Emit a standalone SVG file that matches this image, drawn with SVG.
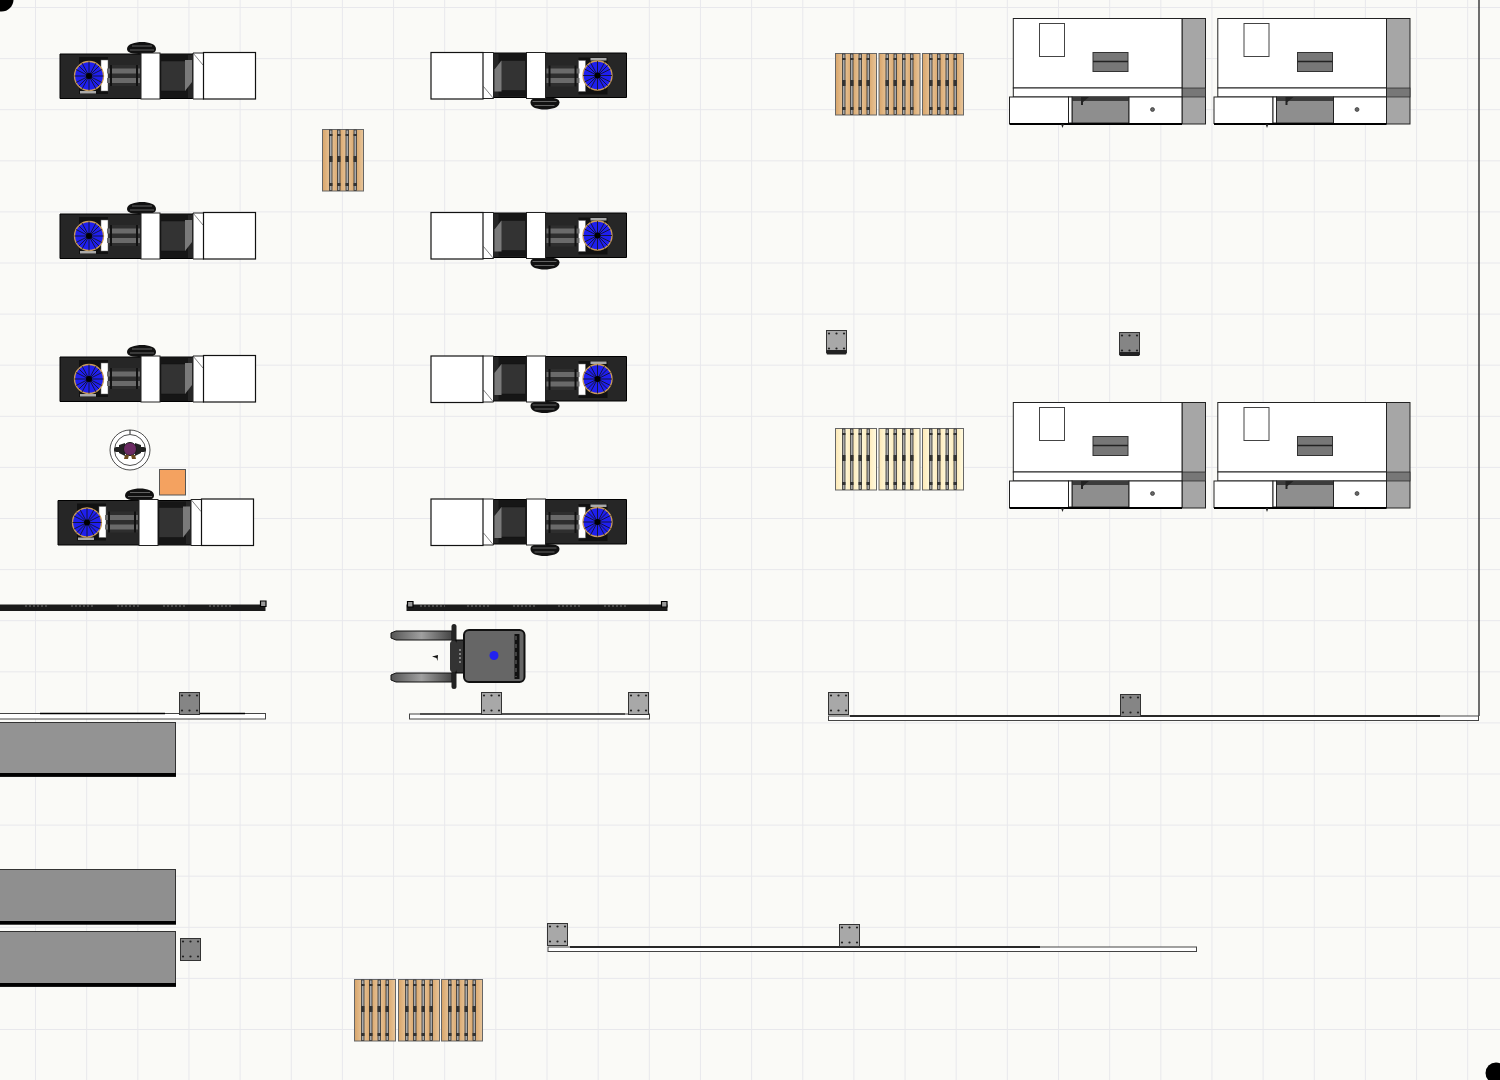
<svg xmlns="http://www.w3.org/2000/svg" width="1500" height="1080" viewBox="0 0 1500 1080">
<style>
.w{fill:#fff;stroke:#222;stroke-width:1}
.wood{fill:url(#woodG)}
.cream{fill:url(#creamG)}
.plate{fill:#858585}
.plateL{fill:#a8a8a8}
</style>
<defs>
<linearGradient id="forkG" x1="0" x2="1" y1="0" y2="0"><stop offset="0" stop-color="#555"/><stop offset="0.5" stop-color="#a0a0a0"/><stop offset="1" stop-color="#444"/></linearGradient>
<linearGradient id="woodG" x1="0" x2=".2" y1="0" y2="0" spreadMethod="reflect"><stop offset="0" stop-color="#d8a468"/><stop offset="1" stop-color="#e8c69c"/></linearGradient>
<linearGradient id="creamG" x1="0" x2=".2" y1="0" y2="0" spreadMethod="reflect"><stop offset="0" stop-color="#fde8b4"/><stop offset="1" stop-color="#fffbe2"/></linearGradient>
<g id="machine">
<path d="M0 2H145V46.500H0Z" fill="#262626" stroke="#000"/>
<path d="M67-3C67-8 75-10 82-10 89-10 96-8 96-3 96 1 92 2 82 2 72 2 67 1 67-3Z" fill="#111"/>
<path d="M72-6H92M70-2H94" stroke="#777" stroke-width=".8" fill="none"/>
<rect x="19" y="5" width="29" height="37" fill="#111"/>
<rect x="20" y="39" width="16" height="2.500" fill="#aaa"/>
<rect x="41" y="8" width="7" height="31" fill="#fff" stroke="#666" stroke-width=".5"/>
<circle cx="29" cy="24" r="14.500" fill="#1f1fee" stroke="#c89a5a" stroke-width="1.300"/>
<path d="M14.500 24H43.500M29 9.500V38.500M18.800 13.800L39.200 34.200M39.200 13.800L18.800 34.200M22 11L36 37M36 11L22 37M16 17.500L42 30.500M42 17.500L16 30.500" stroke="#111" stroke-width=".8"/>
<circle cx="29" cy="24" r="3" fill="#000"/>
<rect x="49" y="13" width="31" height="21" fill="#2e2e2e"/>
<rect x="47" y="16.500" width="33" height="5" fill="#6a6a6a"/>
<rect x="47" y="26" width="33" height="5" fill="#6a6a6a"/>
<rect x="50" y="13" width="2" height="21" fill="#111"/>
<rect x="76" y="13" width="2" height="21" fill="#111"/>
<rect x="81" y="1" width="19" height="46" class="w"/>
<rect x="100" y="3" width="28" height="43" fill="#161616"/>
<rect x="101" y="9" width="25" height="30" fill="#333" stroke="#111" stroke-width=".5"/>
<path d="M125 8H132V30L125 39Z" fill="#7a7a7a"/>
<path d="M133 1H144V47H133Z" class="w"/>
<path d="M133 1L143 13" stroke="#333" stroke-width=".6" fill="none"/>
<rect x="143.500" y=".5" width="52" height="46.500" fill="#fff" stroke="#111" stroke-width="1.200"/>
</g>
<g id="station">
<rect x="172" y=".5" width="23.500" height="105.500" fill="#a6a6a6" stroke="#222"/>
<rect x="172" y="70" width="23.500" height="9" fill="#777" stroke="#222" stroke-width=".7"/>
<rect x="3.300" y=".5" width="168.700" height="69.500" class="w"/>
<rect x="3.300" y="70" width="168.700" height="9" class="w"/>
<rect x="29.500" y="5.500" width="25" height="33" fill="#fff" stroke="#444"/>
<rect x="83" y="34.500" width="35" height="19" fill="#777" stroke="#333"/>
<path d="M83 43.500H118" stroke="#222" stroke-width="1.300"/>
<rect x="62" y="79" width="57" height="26" fill="#8e8e8e" stroke="#222"/>
<rect x="62" y="79" width="57" height="4" fill="#3c3c3c"/>
<path d="M71 79H79L73 84V87H71Z" fill="#222"/>
<rect x="119" y="79" width="53" height="26.500" class="w"/>
<circle cx="142.500" cy="91.500" r="2" fill="#666" stroke="#222" stroke-width=".6"/>
<rect x="-.5" y="79" width="59" height="26.500" class="w"/>
<rect x="58.500" y="79" width="3.500" height="26" class="w"/>
<path d="M-.5 106H172" stroke="#000" stroke-width="1.800"/>
<path d="M51 106L52.500 110 54 106Z" fill="#222"/>
</g>
<g id="pallet">
<rect x=".5" y=".5" width="41" height="61.500" stroke="#666" stroke-width="1"/>
<g fill="#aaa" stroke="#333" stroke-width=".8">
<rect x="7.500" y="1" width="2.500" height="60.500"/>
<rect x="15.500" y="1" width="2.500" height="60.500"/>
<rect x="24" y="1" width="2.500" height="60.500"/>
<rect x="32" y="1" width="2.500" height="60.500"/>
</g>
<g fill="#333">
<rect x="7" y="5" width="3.500" height="2"/><rect x="15" y="5" width="3.500" height="2"/><rect x="23.500" y="5" width="3.500" height="2"/><rect x="31.500" y="5" width="3.500" height="2"/>
<rect x="7" y="27" width="3.500" height="6"/><rect x="15" y="27" width="3.500" height="6"/><rect x="23.500" y="27" width="3.500" height="6"/><rect x="31.500" y="27" width="3.500" height="6"/>
<rect x="7" y="54" width="3.500" height="3"/><rect x="15" y="54" width="3.500" height="3"/><rect x="23.500" y="54" width="3.500" height="3"/><rect x="31.500" y="54" width="3.500" height="3"/>
</g>
</g>
<g id="plate">
<rect x=".5" y=".5" width="20" height="22" stroke="#333" stroke-width="1"/>
<g fill="#222"><circle cx="3" cy="3.500" r="1.100"/><circle cx="10.500" cy="3.500" r="1.100"/><circle cx="18" cy="3.500" r="1.100"/><circle cx="3" cy="18.500" r="1.100"/><circle cx="10.500" cy="18.500" r="1.100"/><circle cx="18" cy="18.500" r="1.100"/></g>
</g>
<path id="railTip" d="M.5.500H6V6H.5Z" fill="#999" stroke="#000" stroke-width="1.200"/>
</defs>

<rect id="floor" width="1500" height="1080" fill="#fafaf7"/>
<path id="grid" fill="none" stroke="#e8e8ec" stroke-width="1" d="M35.500 0V1080M86.650 0V1080M137.800 0V1080M188.950 0V1080M240.100 0V1080M291.250 0V1080M342.400 0V1080M393.550 0V1080M444.700 0V1080M495.850 0V1080M547 0V1080M598.150 0V1080M649.300 0V1080M700.450 0V1080M751.600 0V1080M802.750 0V1080M853.900 0V1080M905.050 0V1080M956.200 0V1080M1007.350 0V1080M1058.500 0V1080M1109.650 0V1080M1160.800 0V1080M1211.950 0V1080M1263.100 0V1080M1314.250 0V1080M1365.400 0V1080M1416.550 0V1080M1467.700 0V1080M0 7.500H1500M0 58.600H1500M0 109.700H1500M0 160.800H1500M0 211.900H1500M0 263H1500M0 314.100H1500M0 365.200H1500M0 416.300H1500M0 467.400H1500M0 518.500H1500M0 569.600H1500M0 620.700H1500M0 671.800H1500M0 722.900H1500M0 774H1500M0 825.100H1500M0 876.200H1500M0 927.300H1500M0 978.400H1500M0 1029.500H1500"/>

<circle id="corner-tl" cx="1.500" cy="-.5" r="12" fill="#000"/>
<circle id="corner-br" cx="1496" cy="1073" r="10.500" fill="#000"/>

<g id="walls">
<path d="M1479 0V716" fill="none" stroke="#333" stroke-width="1.400"/>
<g id="wall-1"><rect x="-2" y="713.500" width="267.500" height="5.500" fill="#fff" stroke="#444"/><path d="M40 713.500H165M200 713.500H245" stroke="#000" stroke-width="1.600"/></g>
<g id="wall-2"><rect x="409.500" y="714" width="240" height="5" fill="#fff" stroke="#444"/><path d="M420 714H625" stroke="#000" stroke-width="1.200"/></g>
<g id="wall-3"><rect x="828.500" y="716" width="650" height="4.500" fill="#fff" stroke="#444"/><path d="M850 716H1440" stroke="#000" stroke-width="1.600"/></g>
<g id="wall-4"><rect x="548" y="947" width="648.500" height="4.500" fill="#fff" stroke="#444"/><path d="M570 947H1040" stroke="#000" stroke-width="1.600"/></g>
</g>

<g id="rails">
<g id="rail-1"><rect x="-2" y="604.500" width="267.500" height="6.500" fill="#1a1a1a"/><path d="M25 606H49M71 606H95M117 606H141M163 606H187M209 606H233" stroke="#777" stroke-dasharray="2 2"/><use href="#railTip" x="260" y="600.500"/></g>
<g id="rail-2"><rect x="406.500" y="604.500" width="261" height="6.500" fill="#1a1a1a"/><path d="M420 606H445M467 606H491M513 606H537M558 606H582M604 606H628" stroke="#777" stroke-dasharray="2 2"/><use href="#railTip" x="407" y="601"/><use href="#railTip" x="661" y="601"/></g>
</g>

<g id="machines">
<use id="machine-a1" href="#machine" x="60" y="52"/>
<use id="machine-a2" href="#machine" x="60" y="212"/>
<use id="machine-a3" href="#machine" x="60" y="355"/>
<use id="machine-a4" href="#machine" x="58" y="498.500"/>
<use id="machine-b1" href="#machine" transform="translate(626.500 99.500) rotate(180)"/>
<use id="machine-b2" href="#machine" transform="translate(626.500 259.500) rotate(180)"/>
<use id="machine-b3" href="#machine" transform="translate(626.500 403) rotate(180)"/>
<use id="machine-b4" href="#machine" transform="translate(626.500 546) rotate(180)"/>
</g>

<g id="stations">
<use id="station-1" href="#station" x="1010" y="18"/>
<use id="station-2" href="#station" x="1214.500" y="18"/>
<use id="station-3" href="#station" x="1010" y="402"/>
<use id="station-4" href="#station" x="1214.500" y="402"/>
</g>

<g id="pallets">
<use class="wood" href="#pallet" x="835" y="53"/>
<use class="wood" href="#pallet" x="878.500" y="53"/>
<use class="wood" href="#pallet" x="922" y="53"/>
<use class="wood" href="#pallet" x="322" y="129"/>
<use class="cream" href="#pallet" x="835" y="428"/>
<use class="cream" href="#pallet" x="878.500" y="428"/>
<use class="cream" href="#pallet" x="922" y="428"/>
<use class="wood" href="#pallet" x="354" y="979"/>
<use class="wood" href="#pallet" x="398" y="979"/>
<use class="wood" href="#pallet" x="441" y="979"/>
</g>

<g id="plates">
<use class="plate" href="#plate" x="179" y="692"/>
<use class="plateL" href="#plate" x="481" y="692"/>
<use class="plateL" href="#plate" x="628" y="692"/>
<use class="plateL" href="#plate" x="828" y="692"/>
<use class="plate" href="#plate" x="1120" y="694"/>
<use class="plateL" href="#plate" x="826" y="330"/>
<rect x="826.500" y="350" width="20" height="4.500" rx="1" fill="#222"/>
<use class="plate" href="#plate" x="1119" y="332"/>
<rect x="1119.500" y="352" width="20" height="4" rx="1" fill="#222"/>
<use class="plateL" href="#plate" x="547" y="923"/>
<use class="plateL" href="#plate" x="839" y="924"/>
<use class="plate" href="#plate" x="180" y="938"/>
</g>

<g id="benches">
<g id="bench-1"><rect x="-2" y="722.500" width="177.500" height="54" fill="#939393" stroke="#333"/><rect x="-2" y="773" width="178" height="3.500" fill="#000"/></g>
<g id="bench-2"><rect x="-2" y="869.500" width="177.500" height="54.500" fill="#8f8f8f" stroke="#333"/><rect x="-2" y="921" width="178" height="3.500" fill="#000"/></g>
<g id="bench-3"><rect x="-2" y="931.500" width="177.500" height="55" fill="#919191" stroke="#333"/><rect x="-2" y="983" width="178" height="3.500" fill="#000"/></g>
</g>

<g id="operator">
<circle cx="130" cy="450" r="20" fill="#fff" stroke="#222" stroke-width=".8"/>
<circle cx="130" cy="450" r="15.500" fill="#fff" stroke="#222" stroke-width=".8"/>
<path d="M130 430V434" stroke="#222"/>
<rect x="114" y="447" width="32" height="5" rx="2.500" fill="#222"/>
<path d="M119 445L125 443V456L119 453ZM141 445L135 443V456L141 453Z" fill="#222"/>
<ellipse cx="130" cy="449" rx="6.500" ry="6.500" fill="#6b2a63" stroke="#1a1a1a"/>
<path d="M125 455L124 459H128L129 455ZM135 455L136 459H132L131 455Z" fill="#6a4a1e"/>
</g>
<rect id="box" x="159.500" y="469.500" width="26" height="25.500" fill="#f4a260" stroke="#555"/>

<g id="forklift">
<path d="M391 633L396 631H452V640H396L391 638Z" fill="url(#forkG)" stroke="#111"/>
<path d="M391 675L396 673H452V682H396L391 680Z" fill="url(#forkG)" stroke="#111"/>
<rect x="451.500" y="624" width="5" height="65" rx="2.500" fill="#222"/>
<rect x="456" y="640" width="9" height="33" fill="#333" stroke="#000"/>
<rect x="450" y="641" width="7" height="31" rx="3" fill="#333"/>
<path d="M460 649V663" stroke="#ccc" stroke-dasharray="2 2"/>
<rect x="464" y="630" width="60.500" height="52" rx="5" fill="#666" stroke="#111" stroke-width="2"/>
<path d="M517 634V679" stroke="#111" stroke-width="5"/>
<path d="M516 636V677" stroke="#999" stroke-width=".7" stroke-dasharray="4 4"/>
<circle cx="494" cy="655.500" r="4.500" fill="#2222ee"/>
<path d="M432 656.500L438 655 437.500 661 436.500 658Z" fill="#111"/>
</g>
</svg>
